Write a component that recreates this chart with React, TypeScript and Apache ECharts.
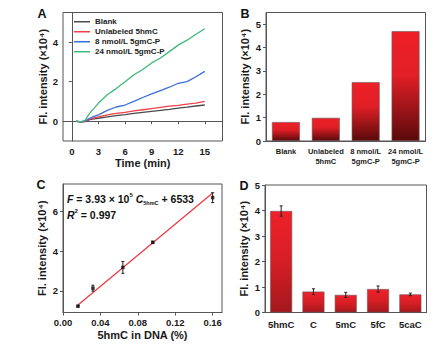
import React, { useEffect, useRef } from "react";
import * as echarts from "echarts";

// Panel A: kinetic curves
const timeMin = [0.5, 1, 1.5, 2, 2.5, 3, 4, 5, 6, 7, 8, 9, 10, 11, 12, 13, 14, 15];
const blankA = [0, -0.05, -0.02, 0.08, 0.12, 0.15, 0.22, 0.28, 0.33, 0.4, 0.45, 0.5, 0.55, 0.6, 0.66, 0.71, 0.77, 0.82];
const unlabeledA = [0, -0.05, 0.0, 0.1, 0.17, 0.22, 0.32, 0.4, 0.45, 0.52, 0.58, 0.64, 0.7, 0.76, 0.8, 0.86, 0.92, 1.0];
const nmol8A = [0, -0.03, 0.02, 0.15, 0.25, 0.32, 0.55, 0.72, 0.82, 1.0, 1.2, 1.38, 1.55, 1.72, 1.92, 2.0, 2.25, 2.52];
const nmol24A = [0, -0.03, 0.05, 0.4, 0.65, 0.92, 1.34, 1.65, 2.0, 2.35, 2.62, 2.95, 3.2, 3.52, 3.85, 4.1, 4.4, 4.68];
const seriesNamesA = ["Blank", "Unlabeled 5hmC", "8 nmol/L 5gmC-P", "24 nmol/L 5gmC-P"];
const timeTicks = [0, 3, 6, 9, 12, 15];
const yTicksA = [0, 2, 4];

// Panel B
const catsB = ["Blank", "Unlabeled\n5hmC", "8 nmol/L\n5gmC-P", "24 nmol/L\n5gmC-P"];
const valsB = [0.81, 0.99, 2.52, 4.7];

// Panel C
const concC = [0.016, 0.032, 0.064, 0.096, 0.16];
const valsC = [1.22, 2.13, 3.18, 4.45, 6.71];
const errC = [0.04, 0.15, 0.3, 0.05, 0.25];
const fitSlope = 3.93e5;
const fitIntercept = 6533;
const fitRangeC = [0.016, 0.16];
const xTicksC = [0, 0.04, 0.08, 0.12, 0.16];
const yTicksC = [2, 4, 6];

// Panel D
const catsD = ["5hmC", "C", "5mC", "5fC", "5caC"];
const valsD = [3.98, 0.82, 0.69, 0.92, 0.71];
const errD = [0.2, 0.11, 0.1, 0.12, 0.05];

const FONT = "Liberation Sans, Arial, sans-serif";
const BORDER = "#555";
const LABEL = "#1a1a1a";

export default function App() {
  const ref = useRef<HTMLDivElement>(null);
  useEffect(() => {
    if (!ref.current) return;
    const chart = echarts.init(ref.current, null, { renderer: "svg" });

    const grids = [
      { left: 63, top: 12.5, width: 159.5, height: 128.5 },
      { left: 266, top: 12.5, width: 159.5, height: 128.5 },
      { left: 63, top: 184, width: 159, height: 128.5 },
      { left: 265, top: 185, width: 161.5, height: 127.5 },
    ].map((g) => ({ ...g, show: true, borderColor: BORDER, borderWidth: 1, backgroundColor: "transparent" }));

    const axisLineCommon = { show: true, lineStyle: { color: BORDER, width: 1 } };
    const tickCommon = { show: true, length: 3, lineStyle: { color: BORDER } };
    const labelCommon = { color: LABEL, fontFamily: FONT, fontWeight: "bold" as const, fontSize: 9.5 };
    const yName = "Fl. intensity (×10⁴)";
    const yNameStyle = { color: LABEL, fontFamily: FONT, fontWeight: "bold" as const, fontSize: 11 };

    const lineColors = ["#4a4a4a", "#f0404a", "#3a6fd8", "#3dba7a"];
    const lineData = [blankA, unlabeledA, nmol8A, nmol24A];

    const redGradB = new echarts.graphic.LinearGradient(0, 0, 0, 1, [
      { offset: 0, color: "#ee2027" },
      { offset: 0.4, color: "#e21f26" },
      { offset: 1, color: "#5a0a0c" },
    ]);
    const redGradD = new echarts.graphic.LinearGradient(0, 0, 0, 1, [
      { offset: 0, color: "#ef2129" },
      { offset: 0.5, color: "#d61e25" },
      { offset: 1, color: "#a3181d" },
    ]);

    const errRender = (params: any, api: any) => {
      const x = api.value(0);
      const y = api.value(1);
      const e = api.value(2);
      const hi = api.coord([x, y + e]);
      const lo = api.coord([x, y - e]);
      const cap = 1.5;
      const style = { stroke: "#222", lineWidth: 1 };
      return {
        type: "group",
        children: [
          { type: "line", shape: { x1: hi[0], y1: hi[1], x2: lo[0], y2: lo[1] }, style },
          { type: "line", shape: { x1: hi[0] - cap, y1: hi[1], x2: hi[0] + cap, y2: hi[1] }, style },
          { type: "line", shape: { x1: lo[0] - cap, y1: lo[1], x2: lo[0] + cap, y2: lo[1] }, style },
        ],
      };
    };

    const fitLine = fitRangeC.map((c) => [c, (fitSlope * c + fitIntercept) / 1e4]);

    const option: any = {
      animation: false,
      grid: grids,
      legend: {
        data: seriesNamesA.map((n) => ({ name: n, icon: "rect" })),
        orient: "vertical",
        left: 74,
        top: 17,
        itemWidth: 16,
        itemHeight: 1.5,
        itemGap: 0.5,
        padding: 0,
        textStyle: { fontFamily: FONT, fontWeight: "bold", fontSize: 8, lineHeight: 9.5, color: LABEL, padding: [0, 0, 0, 0] },
      },
      xAxis: [
        {
          gridIndex: 0,
          type: "value",
          min: -1,
          max: 17,
          name: "Time (min)",
          nameLocation: "middle",
          nameGap: 16,
          nameTextStyle: yNameStyle,
          axisLine: axisLineCommon,
          axisTick: { ...tickCommon, customValues: timeTicks },
          axisLabel: { ...labelCommon, margin: 5, customValues: timeTicks },
          splitLine: { show: false },
        },
        {
          gridIndex: 1,
          type: "category",
          data: catsB,
          axisLine: axisLineCommon,
          axisTick: { show: false },
          axisLabel: { ...labelCommon, fontSize: 7.5, lineHeight: 10, margin: 5, interval: 0 },
        },
        {
          gridIndex: 2,
          type: "value",
          min: 0,
          max: 0.17,
          name: "5hmC in DNA (%)",
          nameLocation: "middle",
          nameGap: 17,
          nameTextStyle: yNameStyle,
          axisLine: axisLineCommon,
          axisTick: { ...tickCommon, customValues: xTicksC },
          axisLabel: { ...labelCommon, margin: 5, customValues: xTicksC, formatter: (v: number) => v.toFixed(2) },
          splitLine: { show: false },
        },
        {
          gridIndex: 3,
          type: "category",
          data: catsD,
          axisLine: axisLineCommon,
          axisTick: { show: false },
          axisLabel: { ...labelCommon, fontSize: 9.5, margin: 7, interval: 0 },
        },
      ],
      yAxis: [
        {
          gridIndex: 0,
          type: "value",
          min: -1,
          max: 5.5,
          name: yName,
          nameLocation: "middle",
          nameGap: 14,
          nameTextStyle: yNameStyle,
          axisLine: axisLineCommon,
          axisTick: { ...tickCommon, customValues: yTicksA },
          axisLabel: { ...labelCommon, margin: 5, customValues: yTicksA },
          splitLine: { show: false },
        },
        {
          gridIndex: 1,
          type: "value",
          min: 0,
          max: 5.5,
          interval: 1,
          name: yName,
          nameLocation: "middle",
          nameGap: 16,
          nameTextStyle: yNameStyle,
          axisLine: axisLineCommon,
          axisTick: tickCommon,
          axisLabel: { ...labelCommon, margin: 5, showMaxLabel: false },
          splitLine: { show: false },
        },
        {
          gridIndex: 2,
          type: "value",
          min: 0.9,
          max: 7.4,
          name: yName,
          nameLocation: "middle",
          nameGap: 16,
          nameTextStyle: yNameStyle,
          axisLine: axisLineCommon,
          axisTick: { ...tickCommon, customValues: yTicksC },
          axisLabel: { ...labelCommon, margin: 5, customValues: yTicksC },
          splitLine: { show: false },
        },
        {
          gridIndex: 3,
          type: "value",
          min: 0,
          max: 5,
          interval: 1,
          name: yName,
          nameLocation: "middle",
          nameGap: 16,
          nameTextStyle: yNameStyle,
          axisLine: axisLineCommon,
          axisTick: tickCommon,
          axisLabel: { ...labelCommon, margin: 5 },
          splitLine: { show: false },
        },
      ],
      series: [
        ...lineData.map((d, i) => ({
          name: seriesNamesA[i],
          type: "line",
          xAxisIndex: 0,
          yAxisIndex: 0,
          symbol: "none",
          lineStyle: { color: lineColors[i], width: 1.3 },
          itemStyle: { color: lineColors[i] },
          data: d.map((v, j) => [timeMin[j], v]),
        })),
        {
          type: "bar",
          xAxisIndex: 1,
          yAxisIndex: 1,
          barWidth: "70%",
          itemStyle: { color: redGradB, borderColor: "#6a5a5a", borderWidth: 0.6 },
          data: valsB,
        },
        {
          type: "line",
          xAxisIndex: 2,
          yAxisIndex: 2,
          symbol: "none",
          lineStyle: { color: "#f03a40", width: 1.3 },
          data: fitLine,
          z: 2,
        },
        {
          type: "custom",
          xAxisIndex: 2,
          yAxisIndex: 2,
          renderItem: errRender,
          data: concC.map((c, i) => [c, valsC[i], errC[i]]),
          z: 3,
        },
        {
          type: "scatter",
          xAxisIndex: 2,
          yAxisIndex: 2,
          symbol: "rect",
          symbolSize: 3.5,
          itemStyle: { color: "#111" },
          data: concC.map((c, i) => [c, valsC[i]]),
          z: 4,
        },
        {
          type: "bar",
          xAxisIndex: 3,
          yAxisIndex: 3,
          barWidth: "68%",
          itemStyle: { color: redGradD, borderColor: "#6a5a5a", borderWidth: 0.6 },
          data: valsD,
        },
        {
          type: "custom",
          xAxisIndex: 3,
          yAxisIndex: 3,
          renderItem: errRender,
          data: catsD.map((_, i) => [i, valsD[i], errD[i]]),
          z: 5,
        },
      ],
      graphic: [
        ...[
          ["A", 42, 14],
          ["B", 245, 14],
          ["C", 41, 185],
          ["D", 244, 186],
        ].map(([t, x, y]) => ({
          type: "text",
          x,
          y,
          style: {
            text: t,
            fontFamily: FONT,
            fontWeight: "bold",
            fontSize: 12.5,
            fill: "#111",
            align: "center",
            verticalAlign: "middle",
          },
        })),
        {
          type: "text",
          x: 67,
          y: 192,
          style: {
            text: "{i|F}{n| = 3.93 × 10}{sup|5}{n| }{i|C}{sub|5hmC}{n| + 6533}",
            fontFamily: FONT,
            fill: "#111",
            rich: {
              n: { fontFamily: FONT, fontWeight: "bold", fontSize: 10.5, lineHeight: 14, fill: "#111" },
              i: { fontFamily: FONT, fontWeight: "bold", fontStyle: "italic", fontSize: 10.5, lineHeight: 14, fill: "#111" },
              sup: { fontFamily: FONT, fontWeight: "bold", fontSize: 6, verticalAlign: "top", lineHeight: 14, fill: "#111" },
              sub: { fontFamily: FONT, fontWeight: "bold", fontSize: 5.5, verticalAlign: "bottom", lineHeight: 14, fill: "#111" },
            },
          },
        },
        {
          type: "text",
          x: 67,
          y: 208,
          style: {
            text: "{i|R}{sup|2}{n| = 0.997}",
            fontFamily: FONT,
            fill: "#111",
            rich: {
              n: { fontFamily: FONT, fontWeight: "bold", fontSize: 10.5, lineHeight: 14, fill: "#111" },
              i: { fontFamily: FONT, fontWeight: "bold", fontStyle: "italic", fontSize: 10.5, lineHeight: 14, fill: "#111" },
              sup: { fontFamily: FONT, fontWeight: "bold", fontSize: 6, verticalAlign: "top", lineHeight: 14, fill: "#111" },
            },
          },
        },
      ],
    };

    chart.setOption(option);
    return () => chart.dispose();
  }, []);

  return (
    <div
      ref={ref}
      style={{ position: "fixed", left: 0, top: 0, width: 445, height: 350, background: "#fff" }}
    />
  );
}
